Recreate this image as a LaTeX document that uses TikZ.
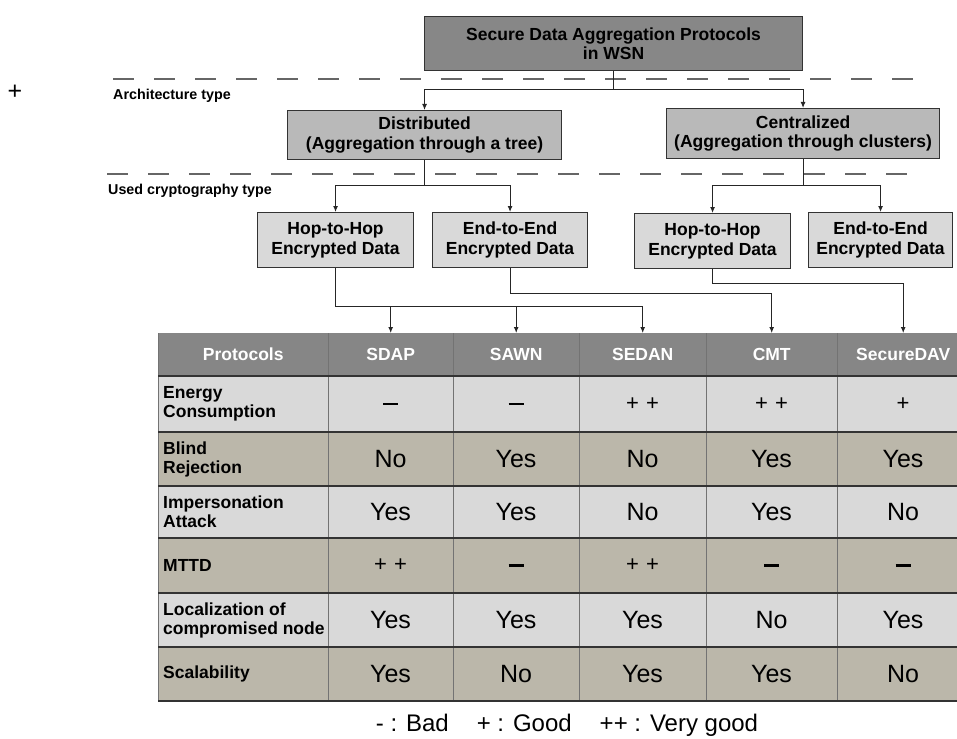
\documentclass[tikz,border=0pt]{standalone}
\usepackage{fontspec}
\setmainfont{Liberation Sans}
\usetikzlibrary{arrows.meta}

\definecolor{topgray}{HTML}{878787}
\definecolor{midgray}{HTML}{B9B9B9}
\definecolor{lowgray}{HTML}{D9D9D9}
\definecolor{rowa}{HTML}{D9D9D9}
\definecolor{rowb}{HTML}{BBB7AA}
\definecolor{headgray}{HTML}{868686}

\newcommand{\pYes}{{\fontsize{25}{25}\selectfont Yes}}
\newcommand{\pNo}{{\fontsize{25}{25}\selectfont No}}
\newcommand{\pBad}{\rule{15pt}{2.8pt}}
\newcommand{\pGood}{{\fontsize{22}{22}\selectfont +}}
\newcommand{\pVgood}{{\fontsize{22}{22}\selectfont +\hspace{7pt}+}}

\begin{document}
\begin{tikzpicture}[x=1pt,y=-1pt,
    box/.style={draw=black!80, line width=1.1pt, anchor=north west, inner sep=0pt,
      align=center, font=\fontsize{17.5}{19.5}\selectfont\bfseries},
    conn/.style={draw=black!85, line width=1pt},
    arr/.style={conn, -{Latex[length=6pt,width=5pt]}},
    sep/.style={draw=black!60, line width=1.5pt, dash pattern=on 21pt off 20pt},
    hcell/.style={fill=headgray, anchor=north west, inner sep=0pt, minimum height=43pt,
      text=white, font=\fontsize{17.5}{19.5}\selectfont\bfseries},
    lbl/.style={anchor=west, inner sep=0pt, align=left,
      font=\fontsize{17.5}{19}\selectfont\bfseries},
    val/.style={inner sep=0pt},
    vline/.style={draw=black!55, line width=0.8pt},
    hline/.style={draw=black!80, line width=1.4pt}]
  \clip (0,0) rectangle (957,738);

  % type separators
  \draw[sep] (113,79) -- (915,79);
  \draw[sep] (107,174) -- (910,174);
  \node[anchor=base west, inner sep=0pt, font=\fontsize{14.3}{16}\selectfont\bfseries] (arch) at (113,100) {Architecture type};
  \node[anchor=base west, inner sep=0pt, font=\fontsize{14.3}{16}\selectfont\bfseries] (crypt) at (108,194) {Used cryptography type};
  \node[font=\fontsize{25}{25}\selectfont] (plus) at (15,92) {+};

  % hierarchy
  \node[box, fill=topgray, minimum width=378pt, minimum height=54pt] (wsn) at (424,16) {Secure Data Aggregation Protocols\\in WSN};
  \node[box, fill=midgray, minimum width=274pt, minimum height=49pt] (dist) at (287,110) {Distributed\\(Aggregation through a tree)};
  \node[box, fill=midgray, minimum width=273pt, minimum height=50pt] (cent) at (666,108) {Centralized\\(Aggregation through clusters)};
  \node[box, fill=lowgray, minimum width=156pt, minimum height=55pt] (hh1) at (257,212) {Hop-to-Hop\\Encrypted Data};
  \node[box, fill=lowgray, minimum width=155pt, minimum height=55pt] (ee1) at (432,212) {End-to-End\\Encrypted Data};
  \node[box, fill=lowgray, minimum width=156pt, minimum height=55pt] (hh2) at (634,213) {Hop-to-Hop\\Encrypted Data};
  \node[box, fill=lowgray, minimum width=144pt, minimum height=55pt] (ee2) at (808,212) {End-to-End\\Encrypted Data};

  \draw[conn] (wsn.south) -- ++(0,18) coordinate (j1);
  \draw[arr] (j1) -| (dist.north);
  \draw[arr] (j1) -| (cent.north);
  \draw[conn] (dist.south) -- ++(0,25) coordinate (j2);
  \draw[arr] (j2) -| (hh1.north);
  \draw[arr] (j2) -| (ee1.north);
  \draw[conn] (cent.south) -- ++(0,26) coordinate (j3);
  \draw[arr] (j3) -| (hh2.north);
  \draw[arr] (j3) -| (ee2.north);

  % table
  \foreach \n/\t/\x/\w in {prot/Protocols/158/170, sdap/SDAP/328/125, sawn/SAWN/453/126,
      sedan/SEDAN/579/127, cmt/CMT/706/131, sdav/SecureDAV/837/132}
    \node[hcell, minimum width=\w pt] (\n) at (\x,333) {\t};

  \foreach \yy/\hh/\col/\lab/\va/\vb/\vc/\vd/\ve [count=\r] in {
      376/56/rowa/{Energy\\Consumption}/\pBad/\pBad/\pVgood/\pVgood/\pGood,
      432/54/rowb/{Blind\\Rejection}/\pNo/\pYes/\pNo/\pYes/\pYes,
      486/52/rowa/{Impersonation\\Attack}/\pYes/\pYes/\pNo/\pYes/\pNo,
      538/55/rowb/{MTTD}/\pVgood/\pBad/\pVgood/\pBad/\pBad,
      593/54/rowa/{Localization of\\compromised node}/\pYes/\pYes/\pYes/\pNo/\pYes,
      647/54/rowb/{Scalability}/\pYes/\pNo/\pYes/\pYes/\pNo}
  {
    \fill[\col] (158,\yy) rectangle (969,\yy+\hh);
    \node[lbl] (lab\r) at (163,\yy+\hh/2) {\lab};
    \node[val] (c\r-1) at (390.5,\yy+\hh/2) {\va};
    \node[val] (c\r-2) at (516,\yy+\hh/2) {\vb};
    \node[val] (c\r-3) at (642.5,\yy+\hh/2) {\vc};
    \node[val] (c\r-4) at (771.5,\yy+\hh/2) {\vd};
    \node[val] (c\r-5) at (903,\yy+\hh/2) {\ve};
  }
  \foreach \x in {158,328,453,579,706,837}
    \draw[vline] (\x,333) -- (\x,701);
  \foreach \y in {376,432,486,538,593,647,701}
    \draw[hline] (158,\y) -- (969,\y);

  % links to protocols
  \draw[arr] (hh1.south) -- ++(0,38) coordinate (b1) -| (sedan.north);
  \draw[arr] (b1 -| sdap.north) -- (sdap.north);
  \draw[arr] (b1 -| sawn.north) -- (sawn.north);
  \draw[arr] (ee1.south) -- ++(0,25) -| (cmt.north);
  \draw[arr] (hh2.south) -- ++(0,14) -| (sdav.north);

  \node[anchor=base, inner sep=0pt, font=\fontsize{24}{24}\selectfont] (legend) at (567,731)
    {- : Bad\hspace{28pt}+ : Good\hspace{28pt}++ : Very good};
\end{tikzpicture}
\end{document}
